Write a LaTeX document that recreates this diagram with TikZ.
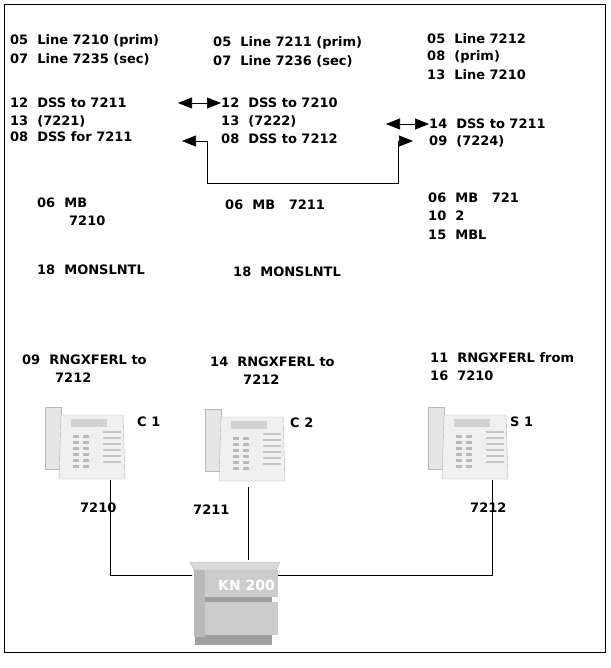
\documentclass[tikz,border=0pt]{standalone}
\usepackage{fontspec}
\setmainfont{DejaVu Sans}
\usetikzlibrary{arrows.meta}
\tikzset{
  lbl/.style={anchor=west,inner sep=0pt,font=\fontsize{13}{15}\selectfont\bfseries},
  wire/.style={line width=1pt},
  dbl/.style={line width=0.6pt,{Triangle[length=14pt,width=11pt]}-{Triangle[length=14pt,width=11pt]}},
  phonebody/.style={fill=gray!12,draw=gray!60}
}
\newcommand{\phoneset}[2]{%
  % handset and body
  \fill[gray!20,draw=gray!55] (#1+0,#2+0) rectangle (#1+16,#2+62);
  \fill[phonebody] (#1+16,#2+8) -- (#1+78,#2+8) -- (#1+80,#2+72) -- (#1+14,#2+72) -- cycle;
  \fill[gray!35] (#1+26,#2+12) rectangle (#1+62,#2+20);
  \foreach \r in {0,...,5}{
    \fill[gray!55] (#1+28,#2+28+\r*6) rectangle (#1+34,#2+31+\r*6);
    \fill[gray!55] (#1+38,#2+28+\r*6) rectangle (#1+44,#2+31+\r*6);
    \fill[gray!45] (#1+58,#2+24+\r*6) rectangle (#1+76,#2+26+\r*6);
  }
}
\begin{document}
\begin{tikzpicture}[x=1pt,y=-1pt]
\useasboundingbox (0,0) rectangle (610,668);
\draw[line width=0.8pt] (4,4) rectangle (605,652);

% column 1
\node[lbl] (a1) at (10,41) {05\ \ Line 7210 (prim)};
\node[lbl] (a2) at (10,59) {07\ \ Line 7235 (sec)};
\node[lbl] (a3) at (10,103) {12\ \ DSS to 7211};
\node[lbl] (a4) at (10,121) {13\ \ (7221)};
\node[lbl] (a5) at (10,137) {08\ \ DSS for 7211};
\node[lbl] (a6) at (37,203) {06\ \ MB};
\node[lbl] (a7) at (69,221) {7210};
\node[lbl] (a8) at (37,270) {18\ \ MONSLNTL};
\node[lbl] (a9) at (22,360) {09\ \ RNGXFERL to};
\node[lbl] (a10) at (55,378) {7212};

% column 2
\node[lbl] (b1) at (213,43) {05\ \ Line 7211 (prim)};
\node[lbl] (b2) at (213,61) {07\ \ Line 7236 (sec)};
\node[lbl] (b3) at (221,103) {12\ \ DSS to 7210};
\node[lbl] (b4) at (221,121) {13\ \ (7222)};
\node[lbl] (b5) at (221,139) {08\ \ DSS to 7212};
\node[lbl] (b6) at (225,205) {06\ \ MB\ \ \ 7211};
\node[lbl] (b7) at (233,272) {18\ \ MONSLNTL};
\node[lbl] (b8) at (210,362) {14\ \ RNGXFERL to};
\node[lbl] (b9) at (243,380) {7212};

% column 3
\node[lbl] (c1) at (427,39) {05\ \ Line 7212};
\node[lbl] (c2) at (427,57) {08\ \ (prim)};
\node[lbl] (c3) at (427,75) {13\ \ Line 7210};
\node[lbl] (c4) at (429,124) {14\ \ DSS to 7211};
\node[lbl] (c5) at (429,141) {09\ \ (7224)};
\node[lbl] (c6) at (428,198) {06\ \ MB\ \ \ 721};
\node[lbl] (c7) at (428,216) {10\ \ 2};
\node[lbl] (c8) at (428,235) {15\ \ MBL};
\node[lbl] (c9) at (430,358) {11\ \ RNGXFERL from};
\node[lbl] (c10) at (430,376) {16\ \ 7210};

% arrows
\coordinate (p1) at (178,103);
\draw[dbl] (p1) -- (b3.west);
\coordinate (p2) at (386,124);
\draw[dbl] (p2) -- (c4.west);
\coordinate (q1) at (182,141);
\coordinate (q2) at (413,141);
\draw[dbl] (q1) -- (207,141) -- (207,183) -- (398,183) -- (398,141) -- (q2);

% phones
\phoneset{45}{407}
\phoneset{205}{409}
\phoneset{428}{407}
\node[lbl] (t1) at (137,422) {C 1};
\node[lbl] (t2) at (290,423) {C 2};
\node[lbl] (t3) at (510,422) {S 1};
\node[lbl] (n1) at (80,508) {7210};
\node[lbl] (n2) at (193,510) {7211};
\node[lbl] (n3) at (470,508) {7212};

% KN 200 cabinet
\draw[wire] (110,480) -- (110,575) -- (192,575);
\draw[wire] (248,487) -- (248,560);
\draw[wire] (492,480) -- (492,575) -- (278,575);
\fill[gray!75] (195,568) rectangle (272,645);
\fill[gray!30,draw=gray!60] (190,562) -- (280,562) -- (276,570) -- (194,570) -- cycle;
\fill[gray!40] (198,570) rectangle (278,597);
\fill[gray!40] (200,602) rectangle (278,635);
\fill[gray!55] (194,570) rectangle (205,637);
\node[anchor=west,inner sep=0pt,text=white,font=\fontsize{14}{16}\selectfont\bfseries] (kn) at (218,585) {KN 200};
\end{tikzpicture}
\end{document}
